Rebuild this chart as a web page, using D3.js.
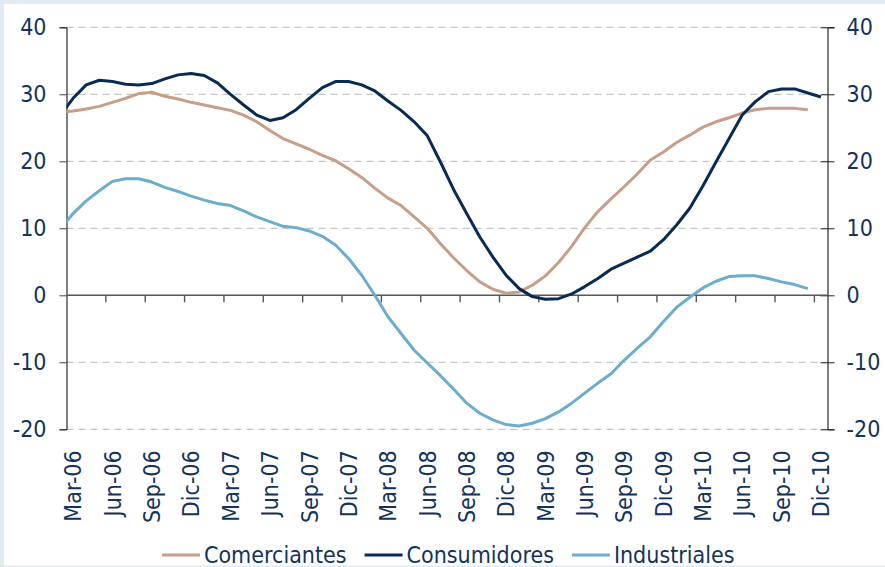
<!DOCTYPE html>
<html>
<head>
<meta charset="utf-8">
<script src="https://cdn.jsdelivr.net/npm/d3@7/dist/d3.min.js"></script>
<style>
    body { margin: 0; background: #dfeaf1; }
    #chart { width: 885px; height: 567px; }
    text { font-family: "DejaVu Sans Condensed", "DejaVu Sans", sans-serif; fill: #13335c; }
</style>
</head>
<body>
<div id="chart"></div>
<script>
// meses (Feb-06 .. Dic-10), el primer punto queda recortado por el eje
var mesNames = ["Ene", "Feb", "Mar", "Abr", "May", "Jun", "Jul", "Ago", "Sep", "Oct", "Nov", "Dic"];
var years = ["06", "07", "08", "09", "10"];
var tickMonths = ["Mar", "Jun", "Sep", "Dic"];
var yTicks = [40, 30, 20, 10, 0, -10, -20];

var seriesNames = ["Comerciantes", "Consumidores", "Industriales"];
var seriesColors = ["#c79e88", "#072b55", "#6badcd"];

var comerciantes = [27.3, 27.5, 27.8, 28.2, 28.8, 29.4, 30.1, 30.3, 29.7, 29.3, 28.8, 28.4,
    28.0, 27.6, 26.9, 25.9, 24.6, 23.4, 22.6, 21.8, 20.9, 20.1, 18.9, 17.6,
    16.0, 14.5, 13.4, 11.7, 10.0, 7.7, 5.6, 3.7, 2.0, 0.9, 0.3, 0.5,
    1.5, 2.9, 4.9, 7.3, 10.1, 12.5, 14.4, 16.2, 18.1, 20.2, 21.4, 22.8,
    23.9, 25.1, 25.9, 26.5, 27.2, 27.7, 27.9, 27.9, 27.9, 27.7];
var consumidores = [26.8, 29.4, 31.4, 32.1, 31.9, 31.5, 31.4, 31.6, 32.3, 32.9, 33.1, 32.8,
    31.7, 30.0, 28.4, 26.9, 26.1, 26.5, 27.7, 29.4, 31.0, 31.9, 31.9, 31.4,
    30.5, 29.0, 27.6, 25.9, 23.8, 19.9, 15.8, 12.2, 8.7, 5.7, 3.0, 1.0,
    -0.2, -0.6, -0.5, 0.2, 1.3, 2.5, 3.9, 4.8, 5.7, 6.6, 8.3, 10.5,
    13.0, 16.3, 19.9, 23.4, 26.9, 28.9, 30.4, 30.8, 30.8, 30.2, 29.6];
var industriales = [9.8, 12.2, 14.1, 15.6, 17.0, 17.4, 17.4, 16.9, 16.1, 15.5, 14.8, 14.2,
    13.7, 13.4, 12.6, 11.7, 11.0, 10.3, 10.1, 9.6, 8.8, 7.5, 5.5, 3.0,
    0.0, -3.2, -5.7, -8.2, -10.1, -12.0, -14.0, -16.1, -17.6, -18.6, -19.3, -19.5,
    -19.1, -18.4, -17.4, -16.1, -14.6, -13.1, -11.7, -9.7, -7.9, -6.2, -3.9, -1.8,
    -0.3, 1.1, 2.1, 2.8, 2.9, 2.9, 2.5, 2.0, 1.6, 1.0];

var draw_chart = {
    width: 885,
    height: 567,
    margin: { top: 27.3, right: 57.5, bottom: 137.7, left: 66.5 },
    view: 0,
    fontSize: "23px",

    initialize: function() {
        var self = this;
        self.view = d3.select("#chart").append("svg")
            .attr("width", self.width)
            .attr("height", self.height);
        self.view.append("rect")
            .attr("x", 4).attr("y", 4)
            .attr("width", self.width - 4)
            .attr("height", self.height - 5.5)
            .attr("fill", "#fff");
        self.draw();
    },

    draw: function() {
        var self = this;
        var m = self.margin;
        var w = self.width - m.left - m.right,
            h = self.height - m.top - m.bottom;

        var months = [];
        years.forEach(function(yy) {
            mesNames.forEach(function(mn) { months.push(mn + "-" + yy); });
        });
        months = months.slice(1, 60); // Feb-06 .. Dic-10

        // indice 0 = Feb-06 ; el area va de Mar-06 a Dic-10
        var x = d3.scaleLinear().domain([0.5, months.length - 0.5]).range([0, w]);
        var y = d3.scaleLinear().domain([-20, 40]).range([h, 0]);

        var g = self.view.append("g")
            .attr("transform", "translate(" + m.left + "," + m.top + ")");

        g.append("defs").append("clipPath")
            .attr("id", "clip")
            .append("rect")
            .attr("width", w)
            .attr("height", h);

        // grid
        g.append("g").selectAll("line")
            .data(yTicks.filter(function(d) { return d !== 0; }))
            .enter().append("line")
            .attr("x1", 0).attr("x2", w)
            .attr("y1", function(d) { return y(d); })
            .attr("y2", function(d) { return y(d); })
            .attr("stroke", "#c6c6c6")
            .attr("stroke-width", 1.2)
            .attr("stroke-dasharray", "7,5");

        var fmt = function(d) { return String(d); }; // guion normal, no signo menos

        // eje izquierdo
        var yAxisL = d3.axisLeft(y).tickValues(yTicks).tickFormat(fmt).tickSize(7).tickPadding(13);
        var gl = g.append("g").call(yAxisL);
        gl.select(".domain").attr("stroke", "#000");
        gl.selectAll(".tick line").attr("stroke", "#444");
        gl.selectAll("text").style("font-size", self.fontSize).attr("fill", "#13335c");

        // eje derecho (marcas cruzadas)
        var yAxisR = d3.axisRight(y).tickValues(yTicks).tickFormat(fmt).tickSize(7).tickPadding(12);
        var gr = g.append("g").attr("transform", "translate(" + w + ",0)").call(yAxisR);
        gr.select(".domain").attr("stroke", "#000");
        gr.selectAll(".tick line").attr("x1", -7).attr("stroke", "#222");
        gr.selectAll("text").style("font-size", self.fontSize).attr("fill", "#13335c");

        // linea de cero con marcas cada trimestre
        var gz = g.append("g").attr("transform", "translate(0," + y(0) + ")");
        gz.append("line")
            .attr("x1", 0).attr("x2", w)
            .attr("stroke", "#575757")
            .attr("stroke-width", 1.6);
        var tickIdx = months.map(function(d, i) { return i; })
            .filter(function(i) { return tickMonths.indexOf(months[i].split("-")[0]) >= 0; });
        gz.selectAll(".qt")
            .data(tickIdx.filter(function(i) { return i > 1; }))
            .enter().append("line")
            .attr("class", "qt")
            .attr("x1", function(i) { return x(i - 0.5); })
            .attr("x2", function(i) { return x(i - 0.5); })
            .attr("y1", 0).attr("y2", 7)
            .attr("stroke", "#555")
            .attr("stroke-width", 1.4);

        // etiquetas del eje x
        g.append("g").selectAll("text")
            .data(tickIdx)
            .enter().append("text")
            .attr("transform", function(i) {
                return "translate(" + x(i) + "," + (h + 21) + ") rotate(-90)";
            })
            .attr("dy", "0.36em")
            .attr("text-anchor", "end")
            .style("font-size", self.fontSize)
            .text(function(i) { return months[i]; });

        // series
        var series = [comerciantes, consumidores, industriales];
        var line = d3.line()
            .x(function(d, i) { return x(i); })
            .y(function(d) { return y(d); });

        g.append("g").attr("clip-path", "url(#clip)")
            .selectAll("path")
            .data(series)
            .enter().append("path")
            .attr("d", line)
            .attr("fill", "none")
            .attr("stroke", function(d, i) { return seriesColors[i]; })
            .attr("stroke-width", 3)
            .attr("stroke-linejoin", "round");

        // leyenda
        var leg = self.view.append("g").attr("transform", "translate(162,555)");
        var pos = 0;
        seriesNames.forEach(function(name, i) {
            leg.append("line")
                .attr("x1", pos).attr("x2", pos + 38)
                .attr("stroke", seriesColors[i])
                .attr("stroke-width", 3);
            var t = leg.append("text")
                .attr("x", pos + 42)
                .attr("dy", "0.36em")
                .style("font-size", self.fontSize)
                .text(name);
            pos += 42 + t.node().getComputedTextLength() + 18;
        });
    }
};

draw_chart.initialize();
</script>
</body>
</html>
